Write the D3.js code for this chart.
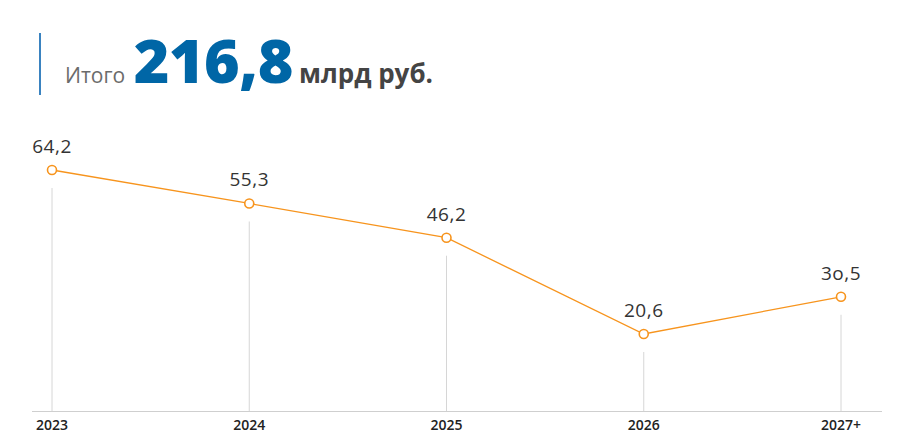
<!DOCTYPE html>
<html>
<head>
<meta charset="utf-8">
<script src="https://cdn.jsdelivr.net/npm/d3@7"></script>
<style>
  body { margin: 0; background: #fff; }
  svg { display: block; font-family: "Open Sans", "Noto Sans", sans-serif; }
</style>
</head>
<body>
<svg id="chart" width="910" height="432"></svg>
<script>
// data
const years = ["2023", "2024", "2025", "2026", "2027+"];
const values = [64.2, 55.3, 46.2, 20.6, 30.5];
const valueLabels = ["64,2", "55,3", "46,2", "20,6", "3o,5"];
const totalValue = "216,8";

const svg = d3.select("#chart");
const orange = "#f7941d";
const blue = "#0066a6";

// header
svg.append("rect")
    .attr("x", 39).attr("y", 33)
    .attr("width", 2).attr("height", 62)
    .attr("fill", "#3a83c0");

const head = svg.append("text")
    .attr("x", 65).attr("y", 83);
head.append("tspan")
    .attr("font-size", 21)
    .attr("fill", "#6b6b6b")
    .text("Итого ");
head.append("tspan")
    .attr("font-size", 61)
    .attr("font-weight", 800)
    .attr("letter-spacing", -0.5)
    .attr("dx", 3)
    .attr("fill", blue)
    .text(totalValue);
head.append("tspan")
    .attr("font-size", 26)
    .attr("font-weight", 700)
    .attr("fill", "#444")
    .attr("dx", 6)
    .text("млрд руб.");

// scales
const x = d3.scalePoint()
    .domain(years)
    .range([52, 841]);

const y = d3.scaleLinear()
    .domain([0, 64.2])
    .range([411.5, 170]);

// axis baseline
svg.append("line")
    .attr("x1", 32).attr("x2", 882)
    .attr("y1", 411.5).attr("y2", 411.5)
    .attr("stroke", "#cfcfcf");

// stems
svg.append("g")
    .selectAll("line")
    .data(years)
    .join("line")
    .attr("x1", d => x(d)).attr("x2", d => x(d))
    .attr("y1", 411)
    .attr("y2", (d, i) => y(values[i]) + 18)
    .attr("stroke", "#d6d6d6");

// tick labels
svg.append("g")
    .selectAll("text")
    .data(years)
    .join("text")
    .attr("x", d => x(d))
    .attr("y", 430)
    .attr("text-anchor", "middle")
    .attr("font-size", 14)
    .attr("font-weight", 600)
    .attr("fill", "#222")
    .text(d => d);

// line
const line = d3.line()
    .x((d, i) => x(years[i]))
    .y(d => y(d));

svg.append("path")
    .datum(values)
    .attr("d", line)
    .attr("fill", "none")
    .attr("stroke", orange)
    .attr("stroke-width", 1.3);

// points
svg.append("g")
    .selectAll("circle")
    .data(values)
    .join("circle")
    .attr("cx", (d, i) => x(years[i]))
    .attr("cy", d => y(d))
    .attr("r", 4.5)
    .attr("fill", "#fff")
    .attr("stroke", orange)
    .attr("stroke-width", 1.6);

// value labels
svg.append("g")
    .selectAll("text")
    .data(values)
    .join("text")
    .attr("x", (d, i) => x(years[i]))
    .attr("y", d => y(d) - 17)
    .attr("text-anchor", "middle")
    .attr("font-size", 19)
    .attr("fill", "#333")
    .attr("letter-spacing", 0.5)
    .text((d, i) => valueLabels[i]);
</script>
</body>
</html>
